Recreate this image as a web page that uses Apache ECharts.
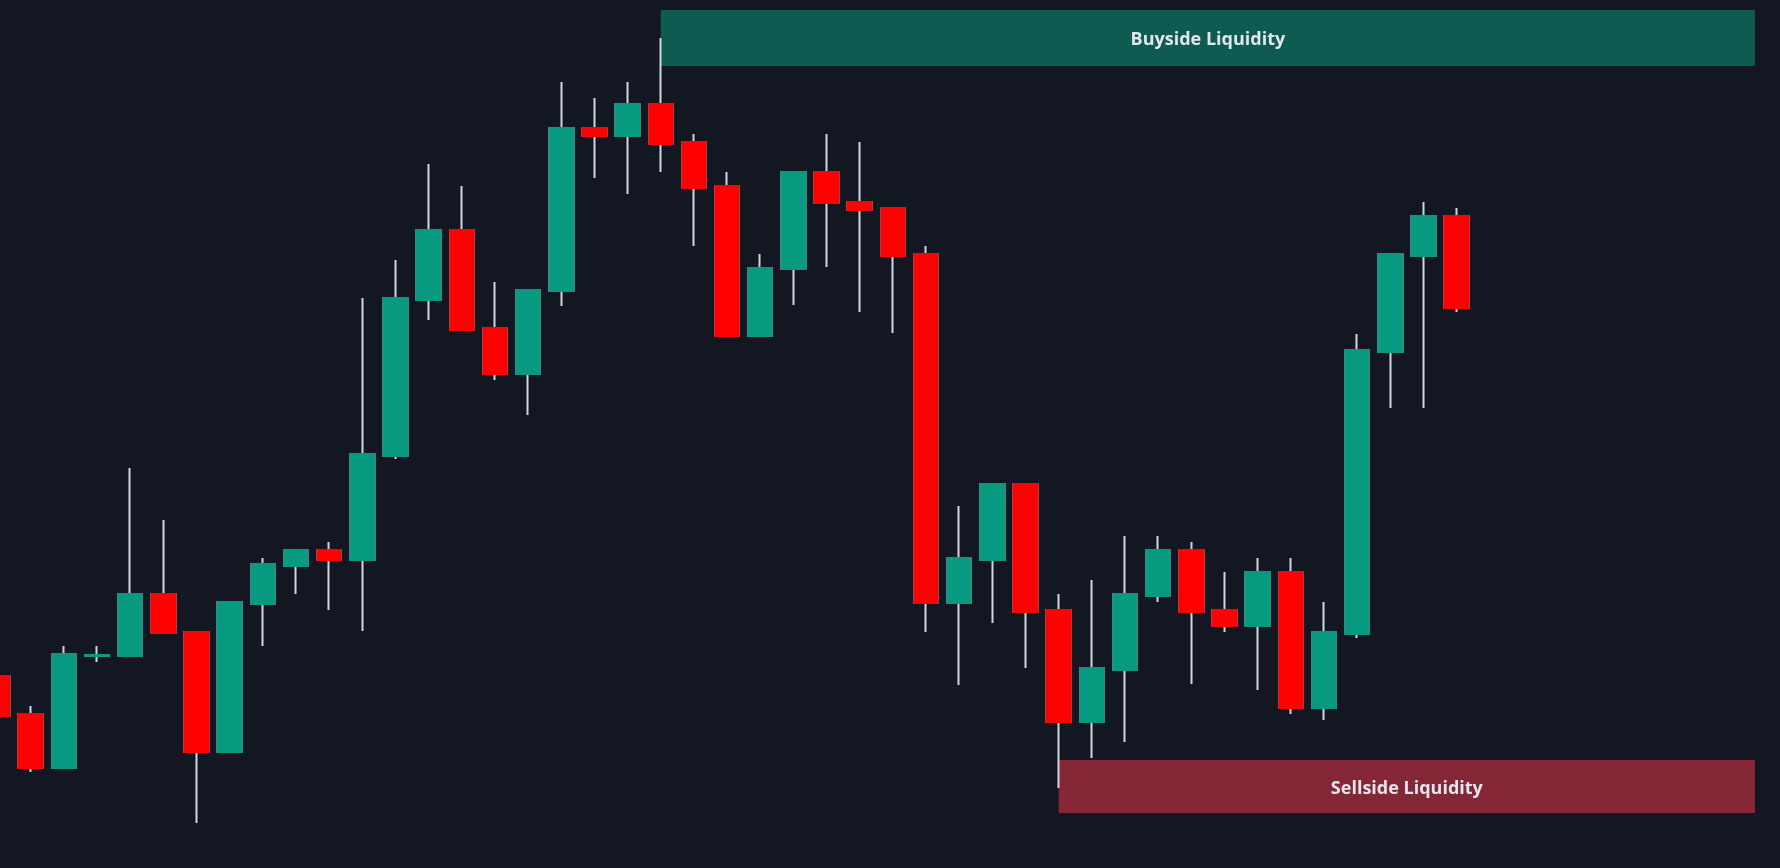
<!DOCTYPE html>
<html>
<head>
<meta charset="utf-8">
<script src="https://cdn.jsdelivr.net/npm/echarts@6/dist/echarts.min.js"></script>
<style>
html,body{margin:0;padding:0;background:#131722;overflow:hidden;width:1780px;height:868px;position:relative;}
#chart{position:absolute;left:-19px;top:0;width:1799px;height:868px;}
</style>
</head>
<body>
<div id="chart"></div>
<script>
// Category slots (45 candles plus empty space to the right)
const categories = Array.from({length: 54}, (_, i) => String(i + 1));

// OHLC values (arbitrary price units)
const opens  = [192,154,100,212,212,274,236,116,264,302,318,308,412,568,638,540,494,577,740,732,764,726,682,532,599,696,666,660,614,265,308,384,258,146,198,272,318,258,242,296,160,234,516,612,652];
const closes = [152,100,214,213,274,235,116,266,304,318,308,414,570,638,538,494,578,740,732,764,724,680,532,600,696,665,658,612,265,310,384,256,146,200,274,318,256,242,296,160,236,518,614,652,560];
const lows   = [152, 96,100,206,212,235, 45,116,222,274,258,237,409,548,538,488,453,562,690,674,696,622,532,532,563,601,556,535,236,183,245,200, 80,110,126,266,184,236,178,154,148,230,460,460,556];
const highs  = [192,162,222,222,400,348,236,266,310,318,326,570,608,704,682,586,578,786,770,786,830,734,696,614,696,734,726,660,622,362,384,384,274,288,332,332,326,296,310,310,266,534,614,666,660];

// Liquidity zones
const zoneNames = ['Buyside Liquidity', 'Sellside Liquidity'];
const zoneStart = [20, 32];      // category index where each zone begins
const zoneEnd   = [53, 53];
const zoneTop   = [858, 108];
const zoneBottom= [802, 55];

const wickData = opens.map((o, i) => [o, closes[i], lows[i], highs[i]]);
const bodyData = opens.map((o, i) => [o, closes[i], Math.min(o, closes[i]), Math.max(o, closes[i])]);

const GREEN = '#089981', RED = '#ff0000', WICK = '#d3d6de';

const chart = echarts.init(document.getElementById('chart'), null, {renderer: 'canvas'});
chart.setOption({
  backgroundColor: '#131722',
  animation: false,
  grid: {left: 0, top: 0, width: 1790.6, height: 868, containLabel: false},
  xAxis: {type: 'category', data: categories, boundaryGap: true, show: false},
  yAxis: {type: 'value', min: 0, max: 868, show: false, splitLine: {show: false}},
  series: [
    {
      type: 'line', data: [], z: 1, silent: true,
      markArea: {
        silent: true,
        data: zoneNames.map((name, k) => [
          {name: name, xAxis: zoneStart[k], yAxis: zoneTop[k],
           itemStyle: {color: k === 0 ? '#0e5b52' : '#842635'}},
          {xAxis: zoneEnd[k], yAxis: zoneBottom[k]}
        ]),
        label: {
          show: true, position: 'inside', offset: [0, 2], color: '#e3e6ec',
          fontFamily: 'Open Sans', fontWeight: 700, fontSize: 18
        }
      }
    },
    {
      type: 'candlestick', data: wickData, z: 2, barWidth: 24, clip: true,
      itemStyle: {color: WICK, color0: WICK, borderColor: WICK, borderColor0: WICK, borderColorDoji: WICK, borderWidth: 2}
    },
    {
      type: 'candlestick', data: bodyData, z: 3, barWidth: 24, clip: true,
      itemStyle: {color: GREEN, color0: RED, borderColor: GREEN, borderColor0: RED, borderColorDoji: GREEN, borderWidth: 2}
    }
  ]
});
</script>
</body>
</html>
